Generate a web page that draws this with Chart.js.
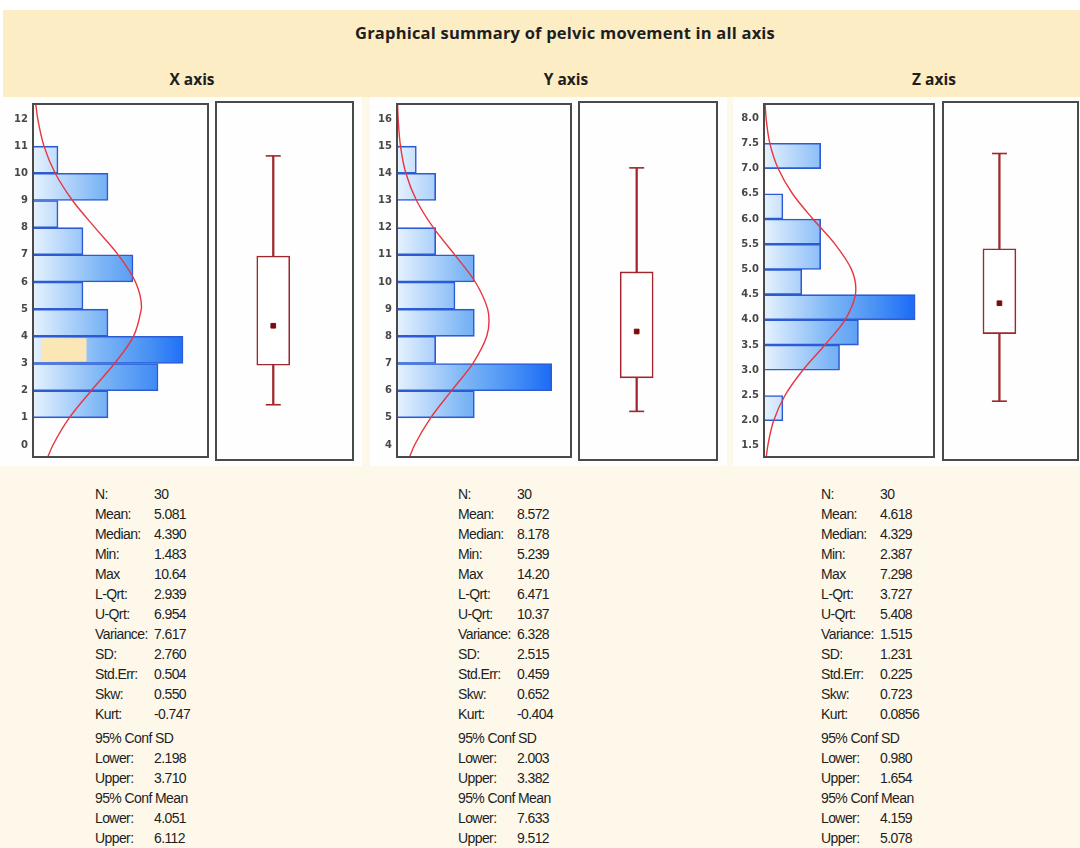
<!DOCTYPE html>
<html>
<head>
<meta charset="utf-8">
<script src="https://cdn.jsdelivr.net/npm/chart.js@4.4.1/dist/chart.umd.min.js"></script>
<style>
  html, body { margin: 0; padding: 0; }
  body { width: 1080px; height: 848px; position: relative; overflow: hidden; background: #ffffff;
         font-family: "Liberation Sans", Arial, sans-serif; }
  #sheet { position: absolute; left: 0; top: 97px; width: 1080px; height: 751px; background: #fdf8ea; }
  #head  { position: absolute; left: 3px; top: 10px; width: 1077px; height: 87px; background: #fcedc4; }
  .panel { position: absolute; top: 97px; height: 369px; background: #fefefe; }
  .ttl   { position: absolute; font-family: "Open Sans", sans-serif; font-weight: 700; color: #1e1e1e;
           white-space: nowrap; transform: translateX(-50%); }
  canvas { position: absolute; }
  .st    { position: absolute; font-size: 14px; letter-spacing: -0.6px; color: #1e1e1e; white-space: nowrap; line-height: 16px; }
</style>
</head>
<body>
<div id="sheet"></div>
<div id="head"></div>
<div class="panel" style="left:0;width:362px"></div>
<div class="panel" style="left:370px;width:357px"></div>
<div class="panel" style="left:733px;width:347px"></div>
<div class="ttl" style="left:565px;top:21px;font-size:16.5px;letter-spacing:0.2px">Graphical summary of pelvic movement in all axis</div>
<div class="ttl" style="left:192px;top:68px;font-size:15.5px">X axis</div>
<div class="ttl" style="left:566px;top:68px;font-size:15.5px">Y axis</div>
<div class="ttl" style="left:934px;top:68px;font-size:15.5px">Z axis</div>

<script>
// ---- histogram bins: lower edge of each bin and how many samples fall in it ----
const xBinStarts = [1, 2, 3, 4, 5, 6, 7, 8, 9, 10];
const xCounts    = [3, 5, 6, 3, 2, 4, 2, 1, 3, 1];
const yBinStarts = [5, 6, 7, 8, 9, 10, 11, 12, 13, 14];
const yCounts    = [4, 8, 2, 4, 3, 4, 2, 0, 2, 1];
const zBinStarts = [2.0, 2.5, 3.0, 3.5, 4.0, 4.5, 5.0, 5.5, 6.0, 6.5, 7.0];
const zCounts    = [1, 0, 4, 5, 8, 2, 3, 3, 1, 0, 3];
const xBinWidth = 1, yBinWidth = 1, zBinWidth = 0.5;

// ---- fitted normal curves (value on the vertical axis, height in counts) ----
const xCurveAt  = [-0.44, 0, 1, 2, 3, 4, 5, 5.08, 6, 7, 8, 9, 10, 11, 12, 12.55];
const xCurveLen = [0.59, 0.80, 1.45, 2.33, 3.26, 4.02, 4.33, 4.34, 4.10, 3.41, 2.48, 1.58, 0.89, 0.44, 0.19, 0.11];
const yCurveAt  = [3.56, 4, 5, 6, 7, 8, 8.57, 9, 10, 11, 12, 13, 14, 15, 16, 16.55];
const yCurveLen = [0.65, 0.91, 1.74, 2.82, 3.92, 4.64, 4.76, 4.69, 4.05, 2.99, 1.88, 1.01, 0.46, 0.18, 0.06, 0.03];
const zCurveAt  = [1.28, 1.5, 2.0, 2.5, 3.0, 3.5, 4.0, 4.5, 4.62, 5.0, 5.5, 6.0, 6.5, 7.0, 7.5, 8.0, 8.28];
const zCurveLen = [0.12, 0.20, 0.51, 1.11, 2.05, 3.22, 4.29, 4.84, 4.86, 4.63, 3.76, 2.59, 1.51, 0.75, 0.31, 0.11, 0.06];

// ---- the highlighted cell inside the 3-4 bin of X ----
const xSelectionBin  = 3.5;
const xSelectionSpan = [0.35, 2.14];

// ---- tick labels ----
const xTicks = [0, 1, 2, 3, 4, 5, 6, 7, 8, 9, 10, 11, 12];
const yTicks = [4, 5, 6, 7, 8, 9, 10, 11, 12, 13, 14, 15, 16];
const zTicks = [1.5, 2.0, 2.5, 3.0, 3.5, 4.0, 4.5, 5.0, 5.5, 6.0, 6.5, 7.0, 7.5, 8.0];

// ---- value axis ranges and count axis limits ----
const xRange = [-0.44, 12.55], yRange = [3.56, 16.55], zRange = [1.28, 8.28];
const xCountMax = 7, yCountMax = 9, zCountMax = 9;

// ---- descriptive statistics ----
const statNames = ['N:', 'Mean:', 'Median:', 'Min:', 'Max', 'L-Qrt:', 'U-Qrt:', 'Variance:', 'SD:',
                   'Std.Err:', 'Skw:', 'Kurt:', '95% Conf SD', 'Lower:', 'Upper:', '95% Conf Mean', 'Lower:', 'Upper:'];
const xStats = ['30', '5.081', '4.390', '1.483', '10.64', '2.939', '6.954', '7.617', '2.760',
                '0.504', '0.550', '-0.747', '', '2.198', '3.710', '', '4.051', '6.112'];
const yStats = ['30', '8.572', '8.178', '5.239', '14.20', '6.471', '10.37', '6.328', '2.515',
                '0.459', '0.652', '-0.404', '', '2.003', '3.382', '', '7.633', '9.512'];
const zStats = ['30', '4.618', '4.329', '2.387', '7.298', '3.727', '5.408', '1.515', '1.231',
                '0.225', '0.723', '0.0856', '', '0.980', '1.654', '', '4.159', '5.078'];

// ---------------------------------------------------------------------------
const RED = '#a0282c';
const BLUE_EDGE = '#2c5bd4';

// outline around the plotting area
const framePlugin = {
  id: 'frame',
  afterDraw(chart, args, opts) {
    const a = chart.chartArea, c = chart.ctx;
    const o = opts.outset || [0, 0, 0, 0];
    c.save();
    c.strokeStyle = '#4a4a4a';
    c.lineWidth = 2;
    c.strokeRect(a.left - o[3], a.top - o[0], a.right - a.left + o[1] + o[3], a.bottom - a.top + o[0] + o[2]);
    c.restore();
  }
};

function barFill(ctx) {
  const chart = ctx.chart, a = chart.chartArea;
  if (!a) return '#8fc0f7';
  const g = chart.ctx.createLinearGradient(a.left, 0, a.right, 0);
  g.addColorStop(0, '#e6f2fe');
  g.addColorStop(0.38, '#7fb7f6');
  g.addColorStop(0.67, '#4690f4');
  g.addColorStop(0.88, '#1c6cf7');
  g.addColorStop(1, '#0a5cf5');
  return g;
}

function makeCanvas(left, top, w, h) {
  const cv = document.createElement('canvas');
  cv.width = w; cv.height = h;
  cv.style.left = left + 'px'; cv.style.top = top + 'px';
  cv.style.width = w + 'px'; cv.style.height = h + 'px';
  document.body.appendChild(cv);
  return cv;
}

function histogram(cv, p) {
  const datasets = [{
    type: 'line',
    indexAxis: 'y',
    data: p.curveAt.map((v, i) => ({ x: p.curveLen[i], y: v })),
    borderColor: '#e8353f',
    borderWidth: 1.4,
    pointRadius: 0,
    cubicInterpolationMode: 'monotone',
    fill: false,
    order: 0
  }];
  if (p.selection) {
    datasets.push({
      type: 'bar',
      data: [{ x: p.selection.span, y: p.selection.at }],
      backgroundColor: '#fbe7b6',
      borderWidth: 0,
      barPercentage: 0.86,
      categoryPercentage: 1,
      grouped: false,
      order: 1
    });
  }
  datasets.push({
    type: 'bar',
    data: p.starts.map((s, i) => ({ x: p.counts[i], y: s + p.width / 2 })),
    backgroundColor: barFill,
    borderColor: BLUE_EDGE,
    borderWidth: 1.6,
    barPercentage: 1,
    categoryPercentage: 1,
    grouped: false,
    order: 2
  });

  return new Chart(cv, {
    type: 'bar',
    data: { datasets },
    options: {
      indexAxis: 'y',
      responsive: false,
      animation: false,
      layout: { autoPadding: false, padding: { left: 3, right: 4, top: 5, bottom: 6 } },
      plugins: { legend: { display: false }, tooltip: { enabled: false }, frame: {} },
      scales: {
        x: { type: 'linear', min: 0, max: p.countMax, display: false, offset: false },
        y: {
          type: 'linear', min: p.range[0], max: p.range[1], offset: false,
          grid: { display: false, drawTicks: false, offset: false },
          border: { display: false },
          ticks: {
            padding: 5,
            color: '#484848',
            font: { family: 'DejaVu Sans', size: 10, weight: 'bold' },
            callback: v => p.decimals ? Number(v).toFixed(p.decimals) : String(v)
          },
          afterBuildTicks: s => { s.ticks = p.ticks.map(v => ({ value: v })); },
          afterFit: s => { s.width = 30; s.paddingTop = 0; s.paddingBottom = 0; }
        }
      }
    },
    plugins: [framePlugin]
  });
}

function boxplot(cv, stats, range, right) {
  const med = parseFloat(stats[2]), lo = parseFloat(stats[3]), hi = parseFloat(stats[4]);
  const q1 = parseFloat(stats[5]), q3 = parseFloat(stats[6]);
  const at = 0.418;
  return new Chart(cv, {
    type: 'bar',
    data: {
      datasets: [
        { type: 'scatter', data: [{ x: at, y: med }], pointStyle: 'rect', pointRadius: 3.3,
          backgroundColor: '#7a0a0e', borderColor: '#7a0a0e', borderWidth: 1, order: 0 },
        { type: 'scatter', data: [{ x: at, y: lo }, { x: at, y: hi }], pointStyle: 'line', pointRadius: 7.5,
          borderColor: RED, borderWidth: 1.6, order: 1 },
        { type: 'bar', data: [{ x: at, y: [q1, q3] }], barThickness: 33, backgroundColor: '#ffffff',
          borderColor: RED, borderWidth: 1.6, borderSkipped: false, grouped: false, order: 2 },
        { type: 'bar', data: [{ x: at, y: [lo, hi] }], barThickness: 1.6, backgroundColor: RED,
          borderWidth: 0, grouped: false, order: 3 }
      ]
    },
    options: {
      responsive: false,
      animation: false,
      layout: { autoPadding: false, padding: { left: 3, right: right, top: 5, bottom: 6 } },
      plugins: { legend: { display: false }, tooltip: { enabled: false }, frame: { outset: [2, 0, 3, 0] } },
      scales: {
        x: { type: 'linear', min: 0, max: 1, display: false, offset: false },
        y: { type: 'linear', min: range[0], max: range[1], display: false, offset: false }
      }
    },
    plugins: [framePlugin]
  });
}

// X panel
histogram(makeCanvas(0, 99, 212, 364), {
  starts: xBinStarts, counts: xCounts, width: xBinWidth, curveAt: xCurveAt, curveLen: xCurveLen,
  range: xRange, ticks: xTicks, decimals: 0, countMax: xCountMax,
  selection: { at: xSelectionBin, span: xSelectionSpan }
});
boxplot(makeCanvas(213, 99, 143, 364), xStats, xRange, 3);

// Y panel
histogram(makeCanvas(364, 99, 211, 364), {
  starts: yBinStarts, counts: yCounts, width: yBinWidth, curveAt: yCurveAt, curveLen: yCurveLen,
  range: yRange, ticks: yTicks, decimals: 0, countMax: yCountMax
});
boxplot(makeCanvas(576, 99, 144, 364), yStats, yRange, 3);

// Z panel
histogram(makeCanvas(731, 99, 207, 364), {
  starts: zBinStarts, counts: zCounts, width: zBinWidth, curveAt: zCurveAt, curveLen: zCurveLen,
  range: zRange, ticks: zTicks, decimals: 1, countMax: zCountMax
});
boxplot(makeCanvas(940, 99, 140, 364), zStats, zRange, 2);

// statistics columns
function statColumn(left, values) {
  statNames.forEach((name, i) => {
    const top = 486 + i * 20 + (i >= 12 ? 4 : 0);
    const a = document.createElement('div');
    a.className = 'st'; a.textContent = name;
    a.style.left = left + 'px'; a.style.top = top + 'px';
    document.body.appendChild(a);
    if (values[i] !== '') {
      const b = document.createElement('div');
      b.className = 'st'; b.textContent = values[i];
      b.style.left = (left + 59) + 'px'; b.style.top = top + 'px';
      document.body.appendChild(b);
    }
  });
}
statColumn(95, xStats);
statColumn(458, yStats);
statColumn(821, zStats);
</script>
</body>
</html>
